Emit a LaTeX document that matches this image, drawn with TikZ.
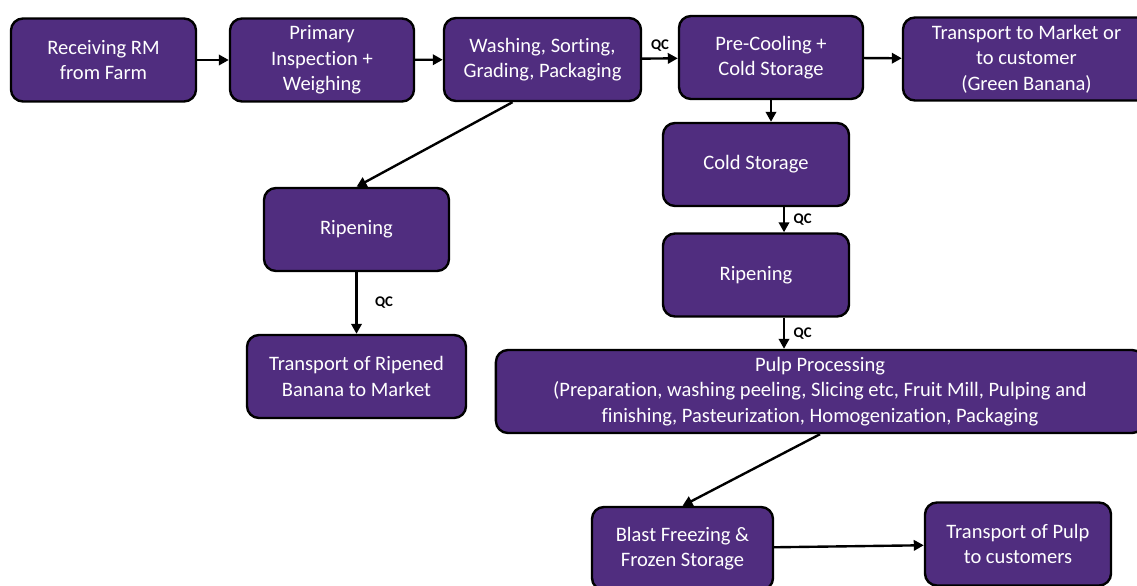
\documentclass[tikz,border=0pt]{standalone}
\usepackage{fontspec}
\setmainfont{Carlito}[Ligatures=NoCommon]
\usetikzlibrary{calc,arrows.meta}
\definecolor{bananapurple}{RGB}{80,45,127}
\begin{document}
\begin{tikzpicture}[x=0.025cm,y=-0.025cm,
  box/.style={draw=black,line width=1.7pt,fill=bananapurple,rounded corners=0.3cm,
    text=white,align=center,font=\fontsize{14.6}{18}\selectfont,
    minimum height=2.075cm,inner sep=2pt},
  flow/.style={line width=1.7pt,-{Triangle[length=2.5mm,width=2.6mm]}},
  qc/.style={font=\fontsize{10.5}{11}\selectfont\bfseries,inner sep=1pt}]
  \clip (0,0) rectangle (1137,585);
  \node[box,minimum width=4.625cm] (recv) at (103.5,60) {Receiving RM\\from Farm};
  \node[box,minimum width=4.6cm] (insp) at (322,60) {Primary\\Inspection +\\Weighing};
  \node[box,minimum width=4.925cm] (wash) at (542.5,59.5) {Washing, Sorting,\\Grading, Packaging};
  \node[box,minimum width=4.6cm] (precool) at (771,57.5) {Pre-Cooling +\\Cold Storage};
  \node[box,minimum width=6.175cm] (green) at (1026.5,59) {Transport to Market or\\to customer\\(Green Banana)};
  \node[box,minimum width=4.65cm] (cold) at (756,164.5) {Cold Storage};
  \node[box,minimum width=4.625cm] (ripe1) at (356.5,229.5) {Ripening};
  \node[box,minimum width=4.65cm] (ripe2) at (756,275) {Ripening};
  \node[box,minimum width=5.475cm] (tripe) at (356.5,376.5) {Transport of Ripened\\Banana to Market};
  \node[box,minimum width=16.2cm] (pulp) at (820,391.5) {Pulp Processing\\(Preparation, washing peeling, Slicing etc, Fruit Mill, Pulping and\\finishing, Pasteurization, Homogenization,\ Packaging};
  \node[box,minimum width=4.525cm] (blast) at (682.5,548.5) {Blast Freezing \&\\Frozen Storage};
  \node[box,minimum width=4.65cm] (tpulp) at (1018,544) {Transport of Pulp\\to customers};
  \coordinate (c1) at ($(cold.south)+(28,0)$);
  \coordinate (c2) at ($(ripe2.south)+(28,0)$);
  \draw[flow] (recv) -- (insp);
  \draw[flow] (insp) -- (wash);
  \draw[flow] (wash) -- node[qc,above=3pt] {QC} (precool);
  \draw[flow] (precool) -- (green);
  \draw[flow] (precool.south) -- (precool.south |- cold.north);
  \draw[flow] (c1) -- node[qc,right=5pt] {QC} (c1 |- ripe2.north);
  \draw[flow] (c2) -- node[qc,right=5pt] {QC} (c2 |- pulp.north);
  \draw[flow] ($(wash.south)+(-30,0)$) -- (ripe1.north);
  \draw[flow] (ripe1) -- node[qc,right=0.4cm] {QC} (tripe);
  \draw[flow] (pulp.south) -- (blast.north);
  \draw[flow] (blast) -- (tpulp);
\end{tikzpicture}
\end{document}
